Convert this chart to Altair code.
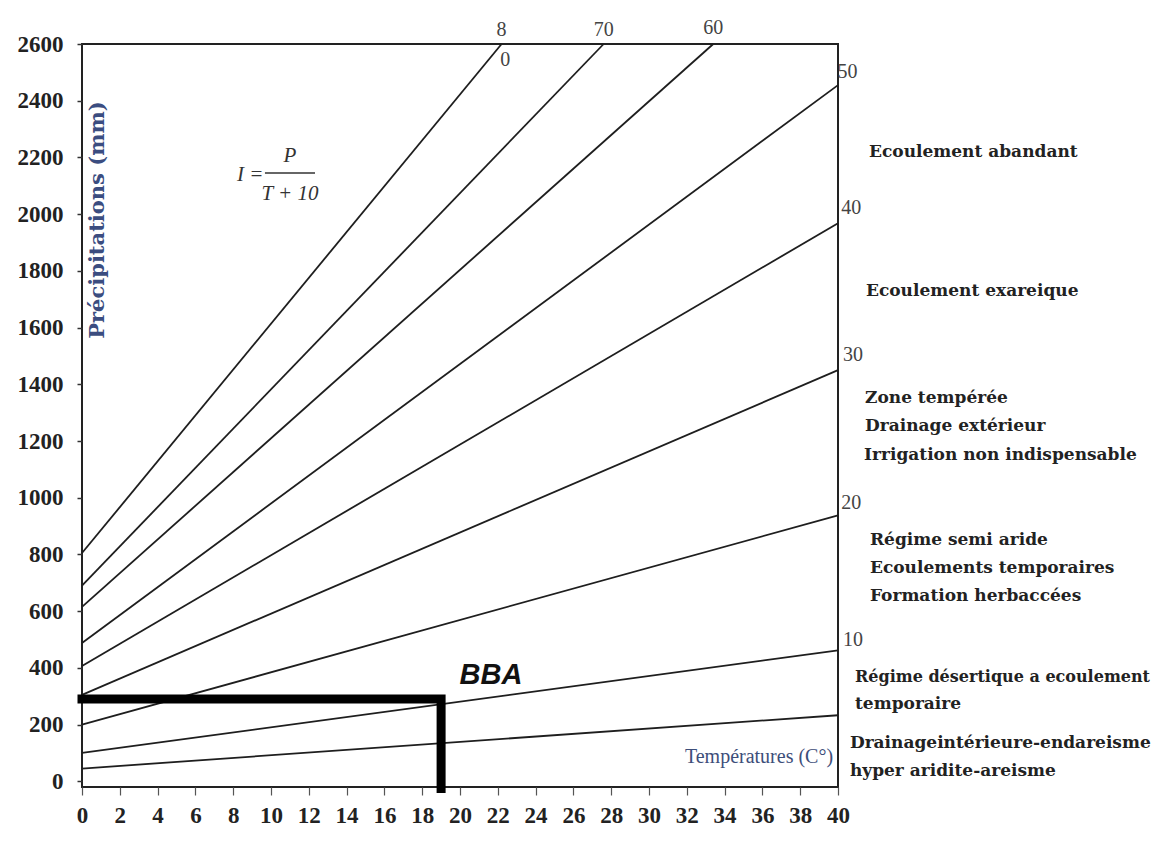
import altair as alt
import pandas as pd

# ---- data ----
index_values = [80, 70, 60, 50, 40, 30, 20, 10, 5]
p_at_t0 = [805, 690, 615, 488, 407, 305, 200, 100, 45]        # P (mm) at T = 0
t_at_end = [22.2, 27.6, 33.4, 40, 40, 40, 40, 40, 40]          # T where each line leaves the frame
p_at_end = [2600, 2600, 2600, 2455, 1968, 1450, 938, 462, 233]  # P where each line leaves the frame

bba_t = [0, 19, 19]
bba_p = [290, 290, -25]

x_ticks = list(range(0, 41, 2))
y_ticks = list(range(0, 2601, 200))

# line index labels
lab_text = ["8", "0", "70", "60", "50", "40", "30", "20", "10"]
lab_t = [22.2, 22.4, 27.6, 33.4, 40.5, 40.7, 40.8, 40.7, 40.8]
lab_p = [2650, 2545, 2650, 2656, 2500, 2020, 1503, 982, 497]

# right-side zone descriptions
zone_text = [
    "Ecoulement abandant",
    "Ecoulement exareique",
    "Zone tempérée",
    "Drainage extérieur",
    "Irrigation non indispensable",
    "Régime semi aride",
    "Ecoulements temporaires",
    "Formation herbaccées",
    "temporaire",
    "Drainageintérieure-endareisme",
    "hyper aridite-areisme",
]
zone_t = [41.64, 41.48, 41.43, 41.43, 41.38, 41.69, 41.69, 41.69, 40.9, 40.63, 40.63]
zone_p = [2219, 1728, 1351, 1252, 1150, 850, 751, 652, 272, 134, 35]

long_text = ["Régime désertique a ecoulement"]
long_t = [40.9]
long_p = [367]

# ---- tables ----
rows = []
for i, ps, te, pe in zip(index_values, p_at_t0, t_at_end, p_at_end):
    rows.append({"I": i, "T": 0, "P": ps, "o": 0})
    rows.append({"I": i, "T": te, "P": pe, "o": 1})
lines_df = pd.DataFrame(rows)
bba_df = pd.DataFrame({"T": bba_t, "P": bba_p, "o": [0, 1, 2]})
lab_df = pd.DataFrame({"T": lab_t, "P": lab_p, "txt": lab_text})
zone_df = pd.DataFrame({"T": zone_t, "P": zone_p, "txt": zone_text})
long_df = pd.DataFrame({"T": long_t, "P": long_p, "txt": long_text})

XS = alt.Scale(domain=[0, 40], nice=False, zero=False)
YS = alt.Scale(domain=[-20, 2600], nice=False, zero=False)

serif = "Liberation Serif"

x_axis = alt.Axis(values=x_ticks, title=None, grid=False, domain=False, format="d",
                  tickSize=8, tickColor="#555", tickWidth=1.2, labelOverlap=False,
                  labelFont=serif, labelFontWeight="bold", labelFontSize=23,
                  labelColor="#222", labelPadding=9, labelFlush=False)
y_axis = alt.Axis(values=y_ticks, title=None, grid=False, domain=False, format="d",
                  tickSize=5, tickColor="#333", tickWidth=1.5, labelOverlap=False,
                  labelFont=serif, labelFontWeight="bold", labelFontSize=23,
                  labelColor="#222", labelPadding=14, labelFlush=False)


def X(field="T"):
    return alt.X(f"{field}:Q", scale=XS, axis=x_axis)


def Y(field="P"):
    return alt.Y(f"{field}:Q", scale=YS, axis=y_axis)


lines = alt.Chart(lines_df).mark_line(color="#1e1e1e", strokeWidth=1.8).encode(
    x=X(), y=Y(), detail="I:N", order="o:Q",
)

bba = alt.Chart(bba_df).mark_line(color="#000", strokeWidth=9, strokeCap="square",
                                  strokeJoin="miter").encode(
    x=X(), y=Y(), order="o:Q")

bba_label = alt.Chart(pd.DataFrame({"T": [21.64], "P": [374], "txt": ["BBA"]})).mark_text(
    font="Liberation Sans", fontWeight="bold", fontStyle="italic", fontSize=29,
    color="#111", align="center", baseline="middle").encode(
    x=X(), y=Y(), text="txt:N")

idx_labels = alt.Chart(lab_df).mark_text(
    font=serif, fontSize=20, color="#444", align="center", baseline="middle").encode(
    x=X(), y=Y(), text="txt:N")

zones = alt.Chart(zone_df).mark_text(
    font="DejaVu Serif", fontWeight="bold", fontSize=17, color="#222",
    align="left", baseline="middle").encode(
    x=X(), y=Y(), text="txt:N")

zone_long = alt.Chart(long_df).mark_text(
    font="DejaVu Serif", fontWeight="bold", fontSize=16, color="#222",
    align="left", baseline="middle").encode(
    x=X(), y=Y(), text="txt:N")

y_title = alt.Chart(pd.DataFrame({"T": [0.85], "P": [1979], "txt": ["Précipitations (mm)"]})).mark_text(
    font="DejaVu Serif", fontWeight="bold", fontSize=21, color="#3b4d80",
    angle=270, align="center", baseline="middle").encode(
    x=X(), y=Y(), text="txt:N")

x_title = alt.Chart(pd.DataFrame({"T": [39.74], "P": [85], "txt": ["Températures (C°)"]})).mark_text(
    font=serif, fontSize=20, color="#3d4e7a", align="right", baseline="middle").encode(
    x=X(), y=Y(), text="txt:N")

formula_df = pd.DataFrame({"T": [8.9, 11.0, 11.0], "P": [2138, 2205, 2070],
                           "txt": ["I =", "P", "T + 10"]})
formula = alt.Chart(formula_df).mark_text(
    font=serif, fontStyle="italic", fontSize=21, color="#333",
    align="center", baseline="middle").encode(
    x=X(), y=Y(), text="txt:N")

bar = alt.Chart(pd.DataFrame({"T": [9.68], "T2": [12.33], "P": [2145]})).mark_rule(
    color="#333", strokeWidth=1.5).encode(
    x=X(), x2="T2:Q", y=Y())

chart = alt.layer(lines, bba, bba_label, idx_labels, zones, zone_long, y_title, x_title,
                  formula, bar).properties(
    width=756, height=743,
    autosize=alt.AutoSizeParams(type="none"),
    padding={"left": 74, "top": 36, "right": 315, "bottom": 46},
    background="white",
).configure_view(stroke="#222", strokeWidth=2)

chart.save("out.html", embed_options={"renderer": "svg", "actions": False})
